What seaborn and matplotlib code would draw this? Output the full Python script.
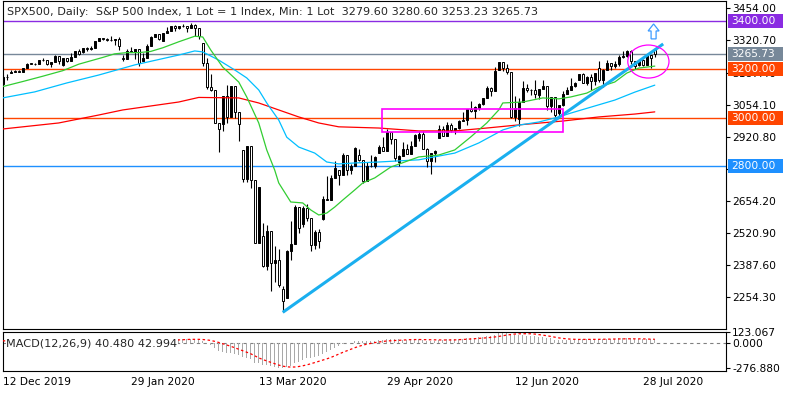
import matplotlib
matplotlib.use("Agg")
import numpy as np
import matplotlib.pyplot as plt
import seaborn as sns
from matplotlib.patches import Rectangle, Ellipse, Polygon
from matplotlib.transforms import blended_transform_factory

# ---------------- data (daily bars, 12 Dec 2019 .. 31 Jul 2020) ----------------
opens = [3141.23, 3168.57, 3183.63, 3191.45, 3192.52, 3191.14, 3205.37, 3226.05, 3224.01, 3223.38,
         3239.91, 3240.09, 3221.29, 3230.78, 3257.85, 3217.55, 3246.28, 3237.18, 3253.05, 3274.70,
         3271.13, 3288.13, 3283.15, 3289.29, 3316.81, 3329.00, 3326.00, 3320.79, 3321.75, 3325.54,
         3247.16, 3243.63, 3276.24, 3273.40, 3283.66, 3235.66, 3248.92, 3297.59, 3334.69, 3345.78,
         3318.28, 3352.09, 3357.75, 3379.45, 3373.94, 3380.16, 3381.50, 3370.29, 3386.15, 3373.23,
         3309.00, 3225.89, 3128.21, 3116.39, 2978.76, 2974.28, 3090.23, 3003.37, 3130.12, 3023.94,
         2863.89, 2746.56, 2882.23, 2741.38, 2480.64, 2508.59, 2386.13, 2529.19, 2398.10, 2409.39,
         2290.71, 2251.00, 2447.33, 2475.56, 2630.07, 2558.98, 2626.65, 2584.59, 2470.50, 2526.90,
         2578.28, 2663.68, 2659.41, 2749.98, 2782.46, 2761.63, 2846.06, 2783.36, 2799.55, 2845.62,
         2823.16, 2736.56, 2799.31, 2797.80, 2854.65, 2878.48, 2863.39, 2939.51, 2912.43, 2815.01,
         2842.74, 2868.44, 2848.42, 2881.19, 2915.46, 2930.32, 2870.12, 2820.00, 2852.50, 2913.86,
         2953.91, 2922.94, 2971.61, 2948.51, 2957.00, 2985.00, 2991.77, 3036.13, 3029.73, 3038.78,
         3055.73, 3080.82, 3122.87, 3112.35, 3199.92, 3232.39, 3207.18, 3190.14, 3002.10, 2993.76,
         3066.59, 3124.74, 3113.49, 3115.34, 3094.42, 3117.86, 3131.29, 3050.33, 3083.76, 3018.59,
         3053.24, 3100.29, 3115.86, 3132.00, 3155.29, 3179.72, 3145.32, 3169.94, 3152.05, 3205.08,
         3155.22, 3197.52, 3226.56, 3215.57, 3224.29, 3251.84, 3257.30, 3276.02, 3235.66, 3219.84,
         3239.41, 3218.44, 3258.44, 3279.60]
highs = [3176.28, 3182.68, 3197.71, 3198.22, 3198.48, 3205.48, 3225.65, 3227.78, 3226.43, 3240.08,
         3247.93, 3240.92, 3231.72, 3258.14, 3246.15, 3246.84, 3244.91, 3267.07, 3275.58, 3282.99,
         3288.13, 3294.25, 3298.66, 3317.11, 3329.88, 3331.00, 3329.79, 3337.77, 3326.88, 3333.18,
         3258.85, 3285.78, 3293.47, 3285.91, 3282.33, 3268.44, 3306.92, 3337.58, 3347.96, 3341.42,
         3352.26, 3375.63, 3381.47, 3385.09, 3380.69, 3387.00, 3375.01, 3393.52, 3389.15, 3360.76,
         3259.81, 3246.99, 3182.51, 3097.07, 2959.72, 3090.96, 3136.72, 3130.97, 3083.04, 2985.93,
         2863.89, 2882.59, 2825.60, 2660.95, 2711.33, 2562.98, 2553.93, 2453.57, 2466.97, 2453.01,
         2300.73, 2449.71, 2571.42, 2637.01, 2615.91, 2631.80, 2641.39, 2522.75, 2533.22, 2538.18,
         2676.85, 2756.89, 2760.75, 2818.57, 2782.46, 2851.85, 2801.88, 2806.51, 2879.22, 2868.98,
         2785.54, 2815.10, 2844.90, 2842.71, 2887.72, 2921.15, 2954.86, 2930.91, 2869.09, 2844.24,
         2898.23, 2891.11, 2901.92, 2932.16, 2944.25, 2945.82, 2874.14, 2852.80, 2865.01, 2968.09,
         2964.21, 2980.29, 2978.50, 2956.76, 2992.00, 3021.72, 3036.25, 3068.67, 3049.17, 3062.18,
         3081.07, 3130.94, 3128.91, 3211.72, 3233.13, 3222.71, 3223.27, 3123.53, 3088.42, 3079.76,
         3153.45, 3141.16, 3120.00, 3155.53, 3120.92, 3154.90, 3115.01, 3086.25, 3073.73, 3053.89,
         3111.51, 3128.44, 3165.81, 3150.00, 3182.59, 3184.15, 3171.80, 3179.78, 3186.82, 3235.32,
         3200.95, 3238.28, 3220.39, 3233.52, 3258.61, 3277.29, 3279.32, 3279.99, 3227.26, 3241.43,
         3243.72, 3264.74, 3250.92, 3280.60]
lows = [3138.47, 3156.51, 3183.63, 3191.03, 3191.14, 3192.32, 3216.03, 3222.30, 3220.51, 3227.20,
        3234.37, 3216.57, 3212.03, 3235.53, 3222.34, 3214.64, 3232.43, 3236.67, 3263.67, 3260.86,
        3268.43, 3277.19, 3280.69, 3302.82, 3318.86, 3322.00, 3316.61, 3320.04, 3301.87, 3281.53,
        3234.50, 3253.22, 3271.89, 3242.80, 3214.68, 3235.66, 3280.61, 3313.75, 3334.39, 3322.12,
        3317.77, 3352.72, 3369.72, 3360.52, 3366.15, 3377.00, 3355.61, 3378.83, 3341.02, 3328.45,
        3214.65, 3118.77, 3108.99, 2977.39, 2855.84, 2945.19, 2976.63, 3034.38, 2999.83, 2901.54,
        2734.43, 2734.00, 2707.22, 2478.86, 2492.37, 2380.94, 2367.04, 2280.52, 2319.78, 2295.56,
        2191.86, 2344.44, 2407.53, 2500.72, 2520.02, 2545.28, 2571.15, 2447.49, 2455.79, 2459.96,
        2574.57, 2657.67, 2663.30, 2762.36, 2721.17, 2805.10, 2761.54, 2764.32, 2830.88, 2820.43,
        2727.10, 2775.95, 2794.26, 2791.76, 2852.89, 2860.71, 2912.16, 2892.47, 2821.61, 2797.85,
        2863.55, 2847.65, 2876.48, 2902.88, 2903.44, 2869.59, 2793.15, 2766.64, 2816.78, 2913.86,
        2922.35, 2953.63, 2938.57, 2933.59, 2955.00, 2988.17, 2969.75, 3023.40, 2998.61, 3031.54,
        3051.64, 3098.90, 3090.41, 3163.84, 3196.00, 3193.11, 3181.49, 2999.49, 2984.47, 2965.66,
        3076.06, 3108.03, 3093.51, 3083.11, 3079.39, 3127.12, 3032.13, 3024.01, 3004.63, 2999.74,
        3047.83, 3101.17, 3124.52, 3128.00, 3155.29, 3142.93, 3136.53, 3115.70, 3136.22, 3149.43,
        3127.66, 3200.76, 3198.59, 3205.65, 3215.16, 3247.77, 3253.10, 3222.66, 3200.05, 3214.25,
        3216.17, 3227.22, 3204.13, 3253.23]
closes = [3168.57, 3168.80, 3191.45, 3192.52, 3191.14, 3205.37, 3221.22, 3224.01, 3223.38, 3239.91,
          3240.02, 3221.29, 3230.78, 3257.85, 3234.85, 3246.28, 3237.18, 3253.05, 3274.70, 3265.35,
          3288.13, 3283.15, 3289.29, 3316.81, 3329.62, 3326.00, 3320.79, 3321.75, 3325.54, 3295.47,
          3243.63, 3276.24, 3273.40, 3283.66, 3225.52, 3248.92, 3297.59, 3334.69, 3345.78, 3327.71,
          3352.09, 3357.75, 3379.45, 3373.94, 3380.16, 3381.50, 3370.29, 3386.15, 3373.23, 3337.75,
          3225.89, 3128.21, 3116.39, 2978.76, 2954.22, 3090.23, 3003.37, 3130.12, 3023.94, 2972.37,
          2746.56, 2882.23, 2741.38, 2480.64, 2711.02, 2386.13, 2529.19, 2398.10, 2409.39, 2304.92,
          2237.40, 2447.33, 2475.56, 2630.07, 2541.47, 2626.65, 2584.59, 2470.50, 2526.90, 2488.65,
          2663.68, 2659.41, 2749.98, 2789.82, 2761.63, 2846.06, 2783.36, 2799.55, 2874.56, 2823.16,
          2736.56, 2799.31, 2797.80, 2836.74, 2878.48, 2863.39, 2939.51, 2912.43, 2830.71, 2842.74,
          2868.44, 2848.42, 2881.19, 2929.80, 2930.32, 2870.12, 2820.00, 2852.50, 2863.70, 2953.91,
          2922.94, 2971.61, 2948.51, 2955.45, 2985.00, 2991.77, 3036.13, 3029.73, 3044.31, 3055.73,
          3080.82, 3122.87, 3112.35, 3193.93, 3232.39, 3207.18, 3190.14, 3002.10, 3041.31, 3066.59,
          3124.74, 3113.49, 3115.34, 3097.74, 3117.86, 3131.29, 3050.33, 3083.76, 3009.05, 3053.24,
          3100.29, 3115.86, 3130.01, 3145.00, 3179.72, 3145.32, 3169.94, 3152.05, 3185.04, 3155.22,
          3197.52, 3226.56, 3215.57, 3224.73, 3251.84, 3257.30, 3276.02, 3235.66, 3215.63, 3239.41,
          3218.44, 3258.44, 3246.22, 3265.73]

# moving averages (bar index, price)
ma_fast_idx = [0, 5, 10, 15, 19, 25, 28, 31, 34, 37, 40, 44, 48, 50, 52, 55, 59, 61, 64, 66, 68, 69,
               72, 75, 77, 79, 81, 83, 85, 88, 90, 93, 97, 104, 109, 113, 117, 121, 124, 125, 130,
               135, 139, 142, 146, 149, 153, 156, 159, 163]
ma_fast = [3129, 3150, 3172, 3195, 3222, 3250, 3265, 3270, 3270, 3275, 3290, 3315, 3338, 3335, 3281,
           3210, 3148, 3086, 2978, 2866, 2782, 2729, 2650, 2646, 2617, 2596, 2604, 2629, 2658, 2700,
           2729, 2750, 2795, 2837, 2845, 2866, 2920, 2978, 3032, 3061, 3065, 3082, 3078, 3086, 3102,
           3127, 3148, 3185, 3206, 3214]
ma_mid_idx = [0, 8, 16, 24, 33, 44, 48, 50, 54, 58, 61, 64, 66, 69, 71, 74, 78, 81, 84, 88, 94, 104,
              113, 119, 125, 129, 134, 139, 142, 153, 158, 163]
ma_mid = [3082, 3107, 3144, 3177, 3219, 3260, 3277, 3273, 3239, 3198, 3165, 3115, 3061, 2990, 2919,
          2878, 2853, 2816, 2808, 2812, 2816, 2825, 2853, 2895, 2949, 2969, 2982, 3003, 3019, 3073,
          3106, 3135]
ma_slow_idx = [0, 14, 24, 30, 44, 49, 59, 64, 69, 74, 79, 84, 94, 104, 113, 121, 129, 140, 149, 158, 163]
ma_slow = [2953, 2978, 3011, 3032, 3065, 3084, 3082, 3061, 3032, 3003, 2978, 2962, 2957, 2945, 2945,
           2957, 2970, 2986, 3003, 3015, 3024]

# MACD(12,26,9): main (histogram) and signal
macd_main = [28, 30, 33, 35, 36, 37, 39, 41, 42, 43, 44, 42, 41,
             42, 40, 40, 39, 40, 42, 42, 44, 45, 46, 48, 50, 51,
             50, 49, 48, 44, 36, 33, 30, 29, 22,
             19, 21, 26, 31, 33, 36, 38, 41, 42, 43, 44, 43, 44, 43, 38,
             22, -2, -24, -58, -85, -93, -108, -105, -116, -126,
             -152, -160, -178, -212, -216, -240, -243, -255, -260, -268,
             -276.88, -262, -246, -218, -203, -182, -166, -160, -149, -141,
             -117, -96, -73, -49, -33, -13, -4, 6, 19,
             24, 21, 23, 23, 27, 34, 38, 47, 50, 45,
             42, 40, 36, 36, 40, 42, 37, 28, 27, 28,
             35, 37, 42, 43, 44, 46, 48, 54, 57, 60,
             64, 69, 76, 80, 95, 112, 121, 123.067, 105, 94,
             87, 86, 83, 80, 75, 72, 70, 58, 52, 40,
             37, 38, 39, 40, 41, 45, 44, 44, 42, 44,
             42, 44, 48, 48, 49, 52, 54, 56, 53, 48,
             46, 42, 43, 41, 40.48]
macd_signal = [25, 26, 27, 29, 30, 31, 33, 35, 36, 38, 39, 40, 41,
               41, 41, 41, 41, 41, 41, 41, 41, 42, 42, 43, 44, 45,
               46, 47, 47, 47, 46, 45, 43, 41, 38,
               35, 32, 30, 28, 27, 28, 30, 32, 35, 37, 39, 41, 42, 42, 42,
               40, 36, 30, 20, 8, -6, -20, -34, -50, -67,
               -83, -99, -116, -139, -161, -179, -195, -210, -225, -240,
               -252, -259, -262, -261, -256, -248, -238, -226, -212, -199,
               -186, -172, -157, -139, -120, -101, -84, -66, -50,
               -35, -22, -11, -2, 6, 13, 19, 24, 27, 29,
               31, 34, 37, 39, 40, 40, 39, 38, 37, 36,
               35, 35, 35, 36, 36, 38, 40, 43, 46, 49,
               52, 55, 59, 63, 68, 74, 81, 89, 95, 100,
               103, 104, 104, 103, 100, 94, 88, 82, 74, 66,
               58, 52, 48, 44, 42, 41, 41, 41, 41, 42,
               42, 43, 43, 44, 45, 46, 47, 48, 48, 49,
               49, 47, 45, 44, 42.994]

date_pos = [0, 32, 64, 96, 128, 160]
date_labels = ["12 Dec 2019", "29 Jan 2020", "13 Mar 2020", "29 Apr 2020", "12 Jun 2020", "28 Jul 2020"]
price_ticks = [3454.0, 3320.7, 3187.4, 3054.1, 2920.8, 2787.5, 2654.2, 2520.9, 2387.6, 2254.3]
levels = [3400.0, 3265.73, 3200.0, 3000.0, 2800.0]
level_colors = ["#8A2BE2", "#778899", "#FF4500", "#FF4500", "#1E90FF"]
macd_ticks = [123.067, 0.0, -276.88]
macd_tick_labels = ["123.067", "0.000", "-276.880"]

title = "SPX500, Daily:  S&P 500 Index, 1 Lot = 1 Index, Min: 1 Lot  3279.60 3280.60 3253.23 3265.73"
macd_title = "MACD(12,26,9) 40.480 42.994"

# drawing objects
trend_start = (70, 2191.9)
trend_end = (165.1, 3306)
box_x, box_y, box_w, box_h = 94.9, 2940.5, 45.1, 94.2
ring_center, ring_w, ring_h = (161.4, 3233), 10.3, 137
arrow_x, arrow_tip, arrow_neck, arrow_base = 162.7, 3389, 3360, 3327

# ---------------- figure ----------------
sns.set_style("white")
plt.rcParams["font.family"] = ["DejaVu Sans"]
FS = 7.7       # axis labels
FS_TXT = 8.1   # chart header / indicator header
W, H = 796, 395
fig = plt.figure(figsize=(W / 100, H / 100), dpi=100)


def px_box(x0, y0, x1, y1):
    return [x0 / W, 1 - y1 / H, (x1 - x0) / W, (y1 - y0) / H]


ax = fig.add_axes(px_box(2.7, 1, 726, 328.5))
axm = fig.add_axes(px_box(2.7, 331.5, 726, 371))

o = np.array(opens)
h = np.array(highs)
l = np.array(lows)
c = np.array(closes)
x = np.arange(len(c))
up = c >= o

# candles: bullish black, bearish hollow
ax.vlines(x, np.minimum(l, np.minimum(o, c)), np.maximum(h, np.maximum(o, c)),
          color="black", lw=0.8, zorder=2)
lo = np.minimum(o, c)
body = np.abs(c - o)
ax.bar(x[up], body[up], bottom=lo[up], width=0.55, color="black", edgecolor="black", lw=0.7, zorder=3)
ax.bar(x[~up], body[~up], bottom=lo[~up], width=0.55, color="white", edgecolor="black", lw=0.7, zorder=3)

for lev, col in zip(levels, level_colors):
    ax.axhline(lev, color=col, lw=1.0, zorder=1)

sns.lineplot(x=ma_slow_idx, y=ma_slow, ax=ax, color="#FF0000", lw=0.9, zorder=4)
sns.lineplot(x=ma_mid_idx, y=ma_mid, ax=ax, color="#00BFFF", lw=0.9, zorder=4)
sns.lineplot(x=ma_fast_idx, y=ma_fast, ax=ax, color="#32CD32", lw=0.9, zorder=4)

ax.plot([trend_start[0], trend_end[0]], [trend_start[1], trend_end[1]],
        color="#1AAFEF", lw=2.2, solid_capstyle="butt", zorder=5)
ax.add_patch(Rectangle((box_x, box_y), box_w, box_h, fill=False, ec="#FF00FF", lw=1.2, zorder=5))
ax.add_patch(Ellipse(ring_center, ring_w, ring_h, fill=False, ec="#FF00FF", lw=0.9, zorder=5))
ax.add_patch(Polygon([(arrow_x, arrow_tip), (arrow_x + 1.375, arrow_neck), (arrow_x + 0.625, arrow_neck),
                      (arrow_x + 0.625, arrow_base), (arrow_x - 0.625, arrow_base),
                      (arrow_x - 0.625, arrow_neck), (arrow_x - 1.375, arrow_neck)],
                     closed=True, fc="white", ec="#3D9BFF", lw=0.9, zorder=5))

ax.set_xlim(0, 180.8)
ax.set_ylim(2124.8, 3484.3)
ax.set_xlabel("")
ax.set_ylabel("")
ax.set_xticks([])
ax.yaxis.tick_right()
ax.set_yticks(price_ticks)
ax.set_yticklabels([f"{v:.2f}" for v in price_ticks])
ax.tick_params(axis="y", length=3, width=0.8, pad=1.5, labelsize=FS, colors="black", direction="out")

# MACD panel
axm.bar(x, macd_main, width=0.3, color="#A9A9A9", lw=0, zorder=2)
axm.axhline(0, color="#808080", lw=0.8, ls=(0, (3, 3)), zorder=1)
sns.lineplot(x=x, y=macd_signal, ax=axm, color="#FF0000", lw=0.9, linestyle=(0, (2, 2)), zorder=3)
axm.set_xlim(0, 180.8)
axm.set_ylim(-305, 128)
axm.set_xlabel("")
axm.set_ylabel("")
axm.yaxis.tick_right()
axm.set_yticks(macd_ticks)
axm.set_yticklabels(macd_tick_labels)
axm.set_xticks(date_pos)
axm.set_xticklabels(date_labels)
for lbl in axm.get_xticklabels():
    lbl.set_ha("left")
axm.tick_params(axis="both", length=3, width=0.8, pad=1.5, labelsize=FS, colors="black", direction="out")
axm.text(0.005, 0, macd_title, transform=blended_transform_factory(axm.transAxes, axm.transData),
         fontsize=FS_TXT, va="center", ha="left", zorder=6,
         bbox=dict(boxstyle="square,pad=0.05", fc="white", ec="none"))

for a in (ax, axm):
    for s in a.spines.values():
        s.set_color("black")
        s.set_linewidth(0.8)

# price labels of the horizontal levels (they sit on top of the scale, as in the terminal)
fig.canvas.draw()
for lev, col in zip(levels, level_colors):
    yd = ax.transData.transform((0, lev))[1]
    fig.patches.append(Rectangle((728 / W, (yd - 7) / H), 55 / W, 14 / H, transform=fig.transFigure,
                                 fc=col, ec="none", zorder=5))
    fig.text(731 / W, yd / H, f"{lev:.2f}", color="white", fontsize=FS, va="center", ha="left", zorder=6)

fig.text(7 / W, 1 - 12 / H, title, fontsize=FS_TXT, va="center", ha="left")

fig.savefig("out.png", dpi=100)
